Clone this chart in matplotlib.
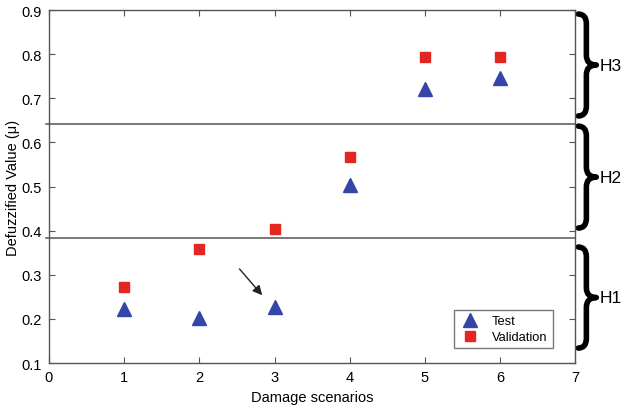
import matplotlib
matplotlib.use('Agg')
import matplotlib.pyplot as plt
import numpy as np
from matplotlib.path import Path
from matplotlib.patches import PathPatch

plt.rcParams['font.family'] = ['Liberation Sans', 'DejaVu Sans']

# data
scenarios = [1, 2, 3, 4, 5, 6]
test_vals = [0.222, 0.202, 0.226, 0.503, 0.722, 0.747]
valid_vals = [0.273, 0.359, 0.404, 0.568, 0.793, 0.793]
bounds = [0.383, 0.641]
brace_spans = [(0.134, 0.363), (0.406, 0.637), (0.660, 0.891)]
brace_labels = ['H1', 'H2', 'H3']

blue = '#3545a8'
red = '#e3261f'
grey = '#555555'


def brace(ax, x0, ytop, ybot, w=0.24, r=0.022):
    # right facing curly brace "}" drawn as a path
    xm = x0 + w * 0.45
    ym = (ytop + ybot) / 2
    verts = [(x0, ytop), (xm, ytop), (xm, ytop - r),
             (xm, ym + r),
             (xm, ym), (x0 + w, ym),
             (xm, ym), (xm, ym - r),
             (xm, ybot + r),
             (xm, ybot), (x0, ybot)]
    codes = [Path.MOVETO, Path.CURVE3, Path.CURVE3,
             Path.LINETO,
             Path.CURVE3, Path.CURVE3,
             Path.CURVE3, Path.CURVE3,
             Path.LINETO,
             Path.CURVE3, Path.CURVE3]
    p = PathPatch(Path(verts, codes), fill=False, lw=4, color='black',
                  clip_on=False, capstyle='round', joinstyle='round')
    ax.add_patch(p)


fig = plt.figure(figsize=(6.28, 4.10), dpi=100)
ax = fig.add_axes([0.078, 0.112, 0.838, 0.861])

for b in bounds:
    ax.plot([-0.04, 7], [b, b], color=grey, lw=1.1, zorder=1, clip_on=False)

ax.plot(scenarios, test_vals, '^', color=blue, markersize=10,
        linestyle='none', label='Test', zorder=3)
ax.plot(scenarios, valid_vals, 's', color=red, markersize=6.5,
        linestyle='none', label='Validation', zorder=3)

ax.annotate('', xy=(2.86, 0.249), xytext=(2.51, 0.318),
            arrowprops=dict(arrowstyle='-|>', color='#222222', lw=1.0,
                            mutation_scale=14))

for (lo, hi), lab in zip(brace_spans, brace_labels):
    brace(ax, 7.04, hi, lo)
    ax.text(7.33, (lo + hi) / 2, lab, fontsize=12.5, va='center', ha='left',
            clip_on=False)

ax.set_xlim(0, 7)
ax.set_ylim(0.1, 0.9)
ax.set_xticks(range(0, 8))
ax.set_yticks(np.arange(0.1, 0.91, 0.1))
ax.set_yticklabels(['%.1f' % v for v in np.arange(0.1, 0.91, 0.1)])
ax.tick_params(direction='in', top=True, right=True, labelsize=10.5,
               length=4, color=grey, pad=5)
for s in ax.spines.values():
    s.set_color(grey)
    s.set_linewidth(1.0)

ax.set_xlabel('Damage scenarios', fontsize=10.5, labelpad=4)
ax.set_ylabel('Defuzzified Value (\u03bc)', fontsize=10.5, labelpad=1)

leg = ax.legend(loc='lower right', bbox_to_anchor=(0.957, 0.042),
                borderaxespad=0, fancybox=False, edgecolor=grey,
                fontsize=9.3, borderpad=0.4, handlelength=1.6,
                handletextpad=0.9, labelspacing=0.3)
leg.get_frame().set_linewidth(1.0)

fig.savefig('out.png', dpi=100)
